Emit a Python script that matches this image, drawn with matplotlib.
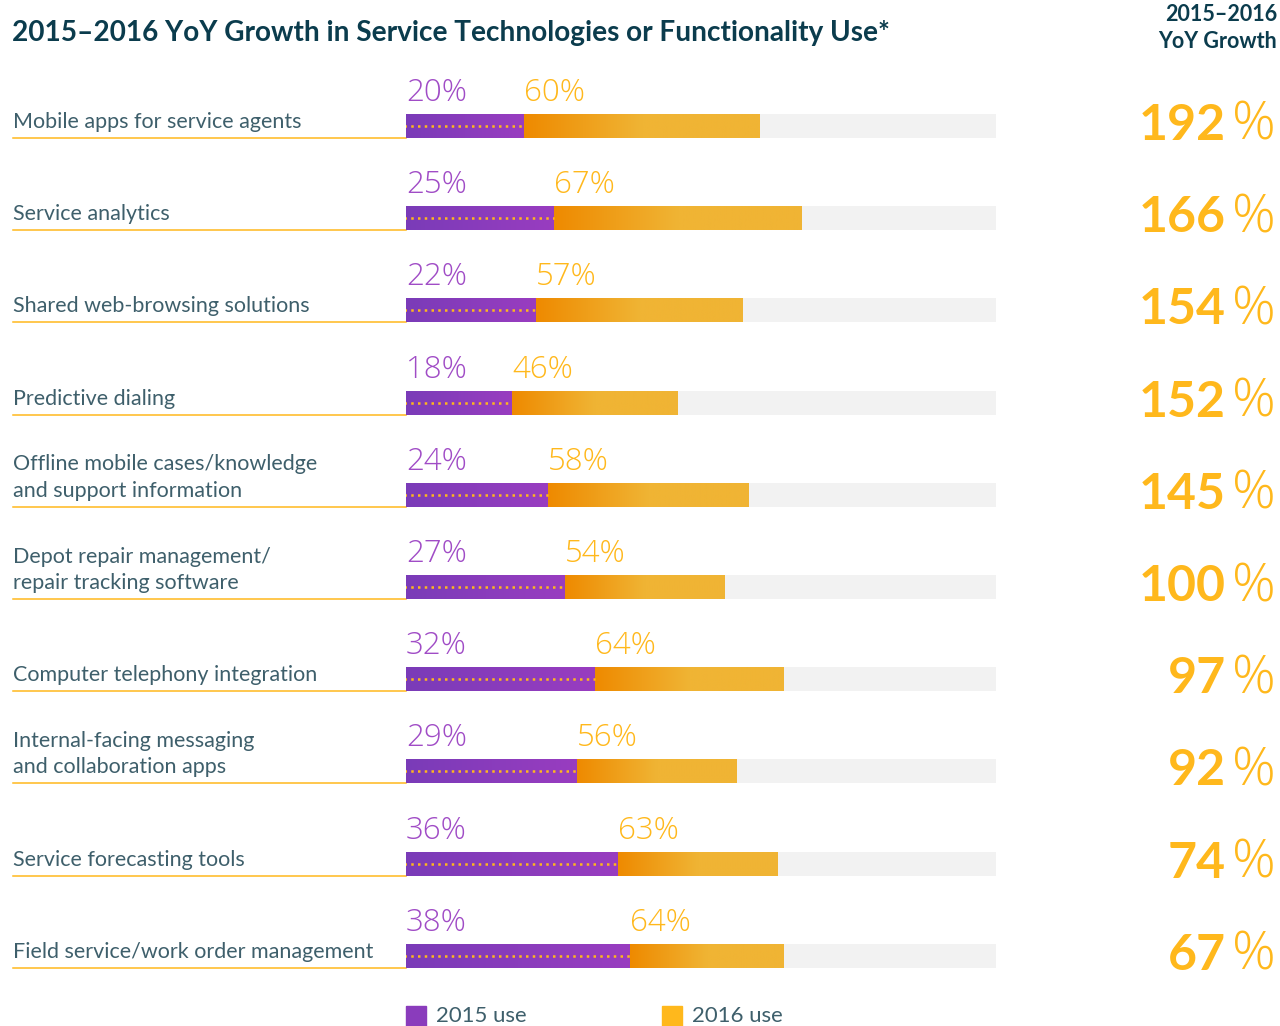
import numpy as np
import matplotlib.pyplot as plt
from matplotlib.colors import LinearSegmentedColormap
from matplotlib.patches import Rectangle

# ---- data ----
labels = [
    "Mobile apps for service agents",
    "Service analytics",
    "Shared web-browsing solutions",
    "Predictive dialing",
    "Offline mobile cases/knowledge\nand support information",
    "Depot repair management/\nrepair tracking software",
    "Computer telephony integration",
    "Internal-facing messaging\nand collaboration apps",
    "Service forecasting tools",
    "Field service/work order management",
]
use_2015 = [20, 25, 22, 18, 24, 27, 32, 29, 36, 38]
use_2016 = [60, 67, 57, 46, 58, 54, 64, 56, 63, 64]
growth = [192, 166, 154, 152, 145, 100, 97, 92, 74, 67]

title = "2015\u20132016 YoY Growth in Service Technologies or Functionality Use*"
growth_header = "2015\u20132016\nYoY Growth"
legend_labels = ["2015 use", "2016 use"]

# ---- styles ----
FONT = "Lato"
THIN = "Open Sans"
TITLE_C = "#0B3C4D"
TEXT_C = "#3E5F6B"
PURPLE_TXT = "#A04CC6"
YELLOW = "#FFB81C"
GRAY_BG = "#F2F2F2"
purple_cmap = LinearSegmentedColormap.from_list("p", ["#7A3BB8", "#993DC0"])
orange_cmap = LinearSegmentedColormap.from_list("o", ["#EE8A00", "#F0B434"])

W, H = 1280, 1026
fig = plt.figure(figsize=(W / 100, H / 100), dpi=100)
fig.patch.set_facecolor("white")

# axes spans full height; x axis 0..100 % mapped onto the bar track (px 406..996)
x0_px, x1_px = 406, 996
ax = fig.add_axes([x0_px / W, 0, (x1_px - x0_px) / W, 1])
px_x = (x1_px - x0_px) / 100.0          # px per % unit
row0_px, row_step = 126, 92.2           # centre of first bar, row pitch in px
ylim = ((H - row0_px) / row_step, -row0_px / row_step)
px_y = row_step
ax.axis("off")

def ux(px):
    return px / px_x

def uy(px):
    return px / px_y

bar_h = uy(24)
rows = np.arange(len(labels))

# background track
ax.barh(rows, [100] * len(rows), height=bar_h, color=GRAY_BG, zorder=1)

grad = np.linspace(0, 1, 256).reshape(1, -1)
orange_grad = np.clip(grad / 0.5, 0, 1)

for i, (a, b) in enumerate(zip(use_2015, use_2016)):
    pb = ax.barh(i, a, height=bar_h, color="#8A3CBC", zorder=2)[0]
    ob = ax.barh(i, b - a, left=a, height=bar_h, color="#F0A020", zorder=2)[0]
    im = ax.imshow(grad, cmap=purple_cmap, aspect="auto", zorder=3,
                   extent=[0, a, i + bar_h / 2, i - bar_h / 2])
    im.set_clip_path(pb)
    im = ax.imshow(orange_grad, cmap=orange_cmap, aspect="auto", zorder=3,
                   extent=[a, b, i + bar_h / 2, i - bar_h / 2], vmin=0, vmax=1)
    im.set_clip_path(ob)
    # dotted line through the 2015 bar
    ax.plot([ux(-2), a], [i, i], color=YELLOW, lw=1.8, ls=(0, (1, 1.7)),
            zorder=4, solid_capstyle="butt")
    # value labels above the bar
    ax.text(0, i - bar_h / 2 - uy(13), f"{a}%", color=PURPLE_TXT, fontsize=22.5,
            family=THIN, fontweight="light", ha="left", va="baseline", zorder=5)
    ax.text(a, i - bar_h / 2 - uy(13), f"{b}%", color=YELLOW, fontsize=22.5,
            family=THIN, fontweight="light", ha="left", va="baseline", zorder=5)
    # category label with underline
    ax.text(ux(13 - x0_px), i + uy(2), labels[i], color=TEXT_C, fontsize=15.5,
            family=FONT, ha="left", va="baseline", linespacing=1.4,
            clip_on=False)
    ax.plot([ux(13 - x0_px), 0], [i + bar_h / 2, i + bar_h / 2], color=YELLOW,
            lw=1.1, clip_on=False, zorder=2)
    # growth
    gy = i + uy(14)
    gx = ux(1276 - x0_px)
    ax.text(gx, gy, "%", color=YELLOW, fontsize=39, family=THIN,
            fontweight="light", ha="right", va="baseline", clip_on=False)
    ax.annotate(str(growth[i]), xy=(gx, gy), xytext=(-50, 0),
                textcoords="offset pixels", color=YELLOW, fontsize=36,
                family=FONT, fontweight="bold", ha="right", va="baseline",
                annotation_clip=False)

# title and header
fig.text(12 / W, 1 - 33 / H, title, color=TITLE_C, fontsize=20.2,
         family=FONT, fontweight="bold", ha="left", va="center")
fig.text(1277 / W, 1 - 28 / H, growth_header, color=TITLE_C, fontsize=15.5,
         family=FONT, fontweight="bold", ha="right", va="center",
         multialignment="right", linespacing=1.3)

# legend
sq = uy(20)
leg_y = (1016 - row0_px) / row_step
for k, (xpx, lab) in enumerate(zip([406, 662], legend_labels)):
    xs = ux(xpx - x0_px)
    if k == 0:
        r = Rectangle((xs, leg_y - sq / 2), ux(20), sq, color="#8A3CBC",
                      clip_on=False)
        ax.add_patch(r)
        im = ax.imshow(grad, cmap=purple_cmap, aspect="auto",
                       extent=[xs, xs + ux(20), leg_y + sq / 2, leg_y - sq / 2])
        im.set_clip_path(r)
    else:
        ax.add_patch(Rectangle((xs, leg_y - sq / 2), ux(20), sq, color=YELLOW,
                               clip_on=False))
    ax.text(xs + ux(30), leg_y, lab, color=TEXT_C, fontsize=15.9, family=FONT,
            ha="left", va="center", clip_on=False)

ax.set_xlim(0, 100)
ax.set_ylim(*ylim)
fig.savefig("out.png", dpi=100, facecolor="white")
